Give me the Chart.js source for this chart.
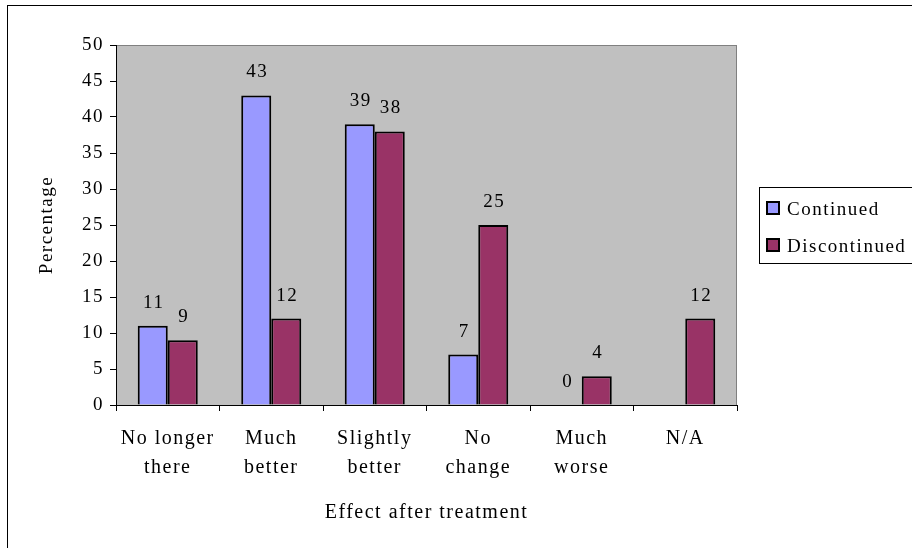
<!DOCTYPE html>
<html>
<head>
<meta charset="utf-8">
<script src="https://cdn.jsdelivr.net/npm/chart.js@4/dist/chart.umd.min.js"></script>
<style>
  body { margin: 0; background: #fff; }
  #wrap { width: 912px; height: 548px; }
</style>
</head>
<body>
<div id="wrap"><canvas id="effectChart" width="912" height="548"></canvas></div>
<script>
let categories = [["No longer", "there"], ["Much", "better"], ["Slightly", "better"], ["No", "change"], ["Much", "worse"], "N/A"];
let continued = [11, 43, 39, 7, 0, null];
let discontinued = [9, 12, 38, 25, 4, 12];
let yTicks = [0, 5, 10, 15, 20, 25, 30, 35, 40, 45, 50];

let serif = "'Liberation Serif', 'Times New Roman', serif";
let spacing = "1.5px";

// old Excel text is drawn a bit spread out
let spacingPlugin = {
    id: "spacing",
    beforeUpdate(chart) { chart.ctx.letterSpacing = spacing; },
    beforeDraw(chart) { chart.ctx.letterSpacing = spacing; }
};

let framePlugin = {
    id: "frame",
    beforeDraw(chart) {
        let ctx = chart.ctx;
        ctx.save();
        ctx.fillStyle = "#fff";
        ctx.fillRect(0, 0, chart.width, chart.height);
        ctx.strokeStyle = "#000";
        ctx.lineWidth = 1;
        ctx.strokeRect(7.5, 5.5, 940, 600);
        let a = chart.chartArea;
        ctx.fillStyle = "#C0C0C0";
        ctx.fillRect(a.left, a.top, a.right - a.left, a.bottom - a.top);
        ctx.strokeStyle = "#808080";
        ctx.strokeRect(a.left + 0.5, a.top + 0.5, a.right - a.left - 1, a.bottom - a.top);
        ctx.restore();
    }
};

let labelPlugin = {
    id: "valueLabels",
    afterDatasetsDraw(chart) {
        let ctx = chart.ctx;
        ctx.save();
        ctx.font = "19px " + serif;
        ctx.fillStyle = "#000";
        ctx.textAlign = "center";
        ctx.textBaseline = "alphabetic";
        chart.data.datasets.forEach((ds, i) => {
            chart.getDatasetMeta(i).data.forEach((bar, j) => {
                if (ds.data[j] === null) return;
                ctx.fillText(String(ds.data[j]), bar.x + 1, bar.y - 18);
            });
        });
        ctx.restore();
    }
};

let legendPlugin = {
    id: "boxLegend",
    afterDraw(chart) {
        let ctx = chart.ctx;
        ctx.save();
        ctx.strokeStyle = "#000";
        ctx.lineWidth = 1;
        ctx.fillStyle = "#fff";
        ctx.fillRect(759.5, 187.5, 200, 76);
        ctx.strokeRect(759.5, 187.5, 200, 76);
        ctx.font = "19px " + serif;
        ctx.textBaseline = "alphabetic";
        chart.data.datasets.forEach((ds, i) => {
            let y = 202 + i * 37;
            ctx.fillStyle = ds.backgroundColor;
            ctx.fillRect(767, y, 12, 12);
            ctx.lineWidth = 2;
            ctx.strokeRect(767, y, 12, 12);
            ctx.fillStyle = "#000";
            ctx.fillText(ds.label, 787, y + 13);
        });
        ctx.restore();
    }
};

new Chart(document.getElementById("effectChart"), {
    type: "bar",
    data: {
        labels: categories,
        datasets: [
            { label: "Continued", data: continued, backgroundColor: "#9999FF", borderColor: "#000", borderWidth: 2, borderSkipped: "bottom" },
            { label: "Discontinued", data: discontinued, backgroundColor: "#993366", borderColor: "#000", borderWidth: 2, borderSkipped: "bottom" }
        ]
    },
    options: {
        responsive: false,
        animation: false,
        categoryPercentage: 0.58,
        barPercentage: 1.0,
        layout: { padding: { left: 32, top: 45, right: 175, bottom: 19 } },
        plugins: {
            legend: { display: false },
            tooltip: { enabled: false }
        },
        scales: {
            x: {
                offset: true,
                grid: { display: true, drawOnChartArea: false, drawTicks: true, tickLength: 6, color: "#000", offset: true },
                border: { display: true, color: "#000", width: 1 },
                ticks: { color: "#000", font: { family: serif, size: 20, lineHeight: 1.45 }, padding: 13, maxRotation: 0, autoSkip: false },
                title: { display: true, text: "Effect after treatment", color: "#000", font: { family: serif, size: 20 } },
                afterFit(scale) { scale.height = 124; }
            },
            y: {
                min: 0,
                max: 50,
                afterBuildTicks(scale) { scale.ticks = yTicks.map(v => ({ value: v })); },
                grid: { display: true, drawOnChartArea: false, drawTicks: true, tickLength: 6, color: "#000" },
                border: { display: true, color: "#000", width: 1 },
                ticks: { color: "#000", font: { family: serif, size: 19 }, padding: 6 },
                title: { display: true, text: "Percentage", color: "#000", font: { family: serif, size: 19 } },
                afterFit(scale) { scale.width = 84; }
            }
        }
    },
    plugins: [spacingPlugin, framePlugin, labelPlugin, legendPlugin]
});
</script>
</body>
</html>
